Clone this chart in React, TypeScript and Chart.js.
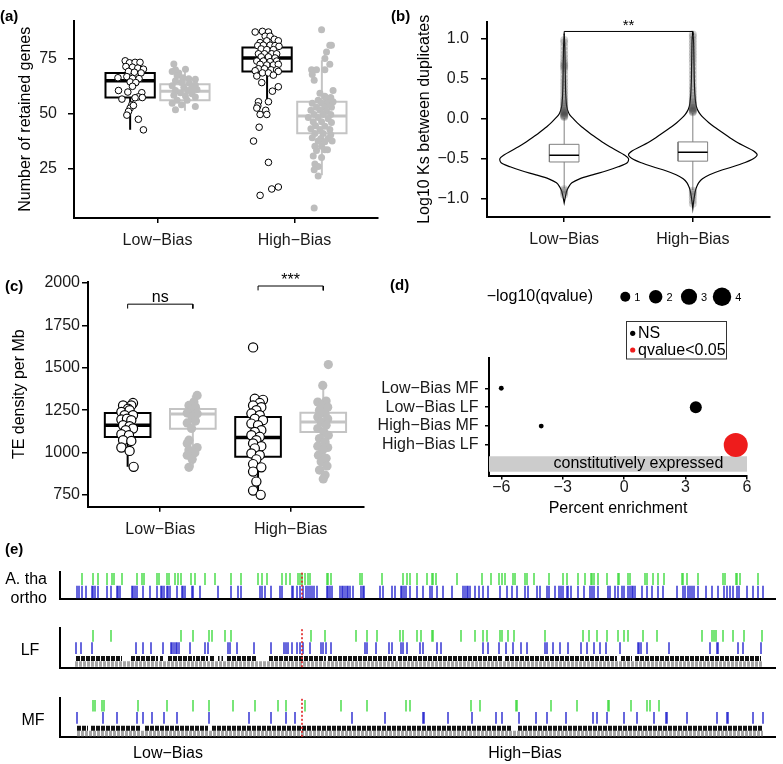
import React, { useEffect, useRef } from "react";
import { Chart, registerables } from "chart.js";

Chart.register(...registerables);

const FONT = "'Liberation Sans', Arial, Helvetica, sans-serif";
const MINUS = "\u2212";

/* ---------------- (a) Number of retained genes ---------------- */
const biasGroups = ["Low\u2212Bias", "High\u2212Bias"];
const retainedTicks = [25, 50, 75];
// [lower whisker, Q1, median, Q3, upper whisker]
const retainedBoxLowBlack = [42.5, 57.2, 64.8, 68.4, 74.0];
const retainedBoxLowGray = [51.2, 56.0, 60.1, 63.3, 71.0];
const retainedBoxHighBlack = [53.9, 69.0, 75.2, 80.0, 87.3];
const retainedBoxHighGray = [21.9, 41.0, 48.8, 55.3, 74.2];
// points: [jitter, value]
const retainedLowBlack = [
  [-0.036, 73.9], [-0.005, 73.0], [0.036, 73.2], [0.072, 73.2], [-0.031, 71.3], [0.017, 71.0],
  [0.056, 70.6], [0.097, 70.1], [-0.012, 69.1], [0.031, 68.7], [0.08, 68.4], [-0.089, 66.2],
  [-0.024, 66.7], [0.017, 65.9], [0.065, 65.8], [0, 64.3], [0.041, 64.0], [-0.085, 60.4],
  [0.017, 62.3], [0.085, 59.4], [-0.017, 59.7], [0.06, 57.5], [0.089, 57.2], [0.036, 57.1],
  [-0.06, 56.5], [0.012, 53.9], [0, 52.4], [0.024, 53.6], [-0.012, 50.9], [-0.024, 49.2],
  [0.06, 47.3], [0.097, 42.5],
];
const retainedLowGray = [
  [-0.081, 72.5], [0.004, 70.1], [-0.069, 69.8], [-0.093, 69.1], [-0.045, 68.4], [-0.057, 67.2],
  [-0.016, 66.2], [0.028, 65.8], [0.076, 65.5], [-0.069, 64.8], [-0.025, 64.0], [0.033, 63.7],
  [0.076, 62.9], [-0.093, 62.6], [-0.008, 61.9], [0.052, 61.9], [-0.069, 60.4], [0.023, 60.4],
  [0.088, 60.9], [-0.033, 59.4], [0.052, 58.9], [-0.081, 58.2], [0.004, 57.9], [0.076, 57.5],
  [-0.057, 56.0], [0.016, 56.0], [-0.093, 54.6], [-0.025, 53.9], [0.076, 53.1], [-0.069, 51.7],
];
const retainedHighBlack = [
  [-0.087, 87.0], [-0.034, 87.3], [0.01, 87.0], [-0.014, 85.1], [0.022, 85.1], [0.053, 83.7],
  [-0.051, 82.2], [-0.002, 83.0], [0.082, 83.0], [-0.068, 80.8], [-0.027, 81.0], [0.022, 81.0],
  [0.058, 80.8], [0.087, 80.5], [-0.043, 79.3], [-0.002, 79.0], [0.046, 79.0], [-0.063, 77.1],
  [-0.019, 77.1], [0.034, 77.1], [0.07, 77.1], [-0.043, 75.7], [0.01, 75.7], [0.058, 75.2],
  [-0.075, 73.8], [-0.027, 73.8], [0.022, 73.5], [0.07, 73.8], [-0.051, 72.3], [-0.002, 72.0],
  [0.046, 72.0], [0.082, 72.3], [-0.063, 70.3], [-0.019, 70.3], [0.029, 69.8], [0.07, 69.8],
  [-0.087, 69.4], [-0.034, 68.4], [0.01, 68.4], [0.082, 69.1], [-0.075, 67.0], [0.046, 67.4],
  [-0.039, 64.0], [0.082, 62.1], [0.039, 60.1], [0.01, 55.3], [-0.063, 55.3], [-0.068, 53.4],
  [-0.075, 52.4], [-0.01, 51.4], [-0.051, 49.5], [-0.002, 49.5], [-0.058, 43.7], [-0.099, 37.4],
  [0.01, 27.7], [0.082, 16.5], [0.034, 15.6], [-0.051, 12.7],
];
const retainedHighGray = [
  [-0.002, 88.0], [0.058, 81.0], [0.07, 81.0], [0.034, 77.9], [0.022, 75.0], [0.058, 72.3],
  [-0.075, 69.8], [-0.039, 69.8], [0.022, 69.8], [-0.07, 67.7], [-0.056, 65.1], [-0.014, 59.2],
  [0.082, 60.4], [0.022, 57.8], [0.065, 57.2], [-0.027, 56.0], [0.034, 56.4], [-0.07, 54.6],
  [-0.002, 54.6], [0.046, 54.6], [0.082, 55.3], [-0.039, 52.8], [0.022, 52.8], [0.07, 52.8],
  [-0.08, 51.4], [-0.014, 51.4], [0.034, 51.0], [-0.056, 49.5], [0.01, 49.5], [0.065, 49.5],
  [-0.099, 48.1], [-0.027, 48.1], [0.046, 47.6], [-0.063, 46.2], [-0.002, 46.2], [0.07, 45.9],
  [-0.046, 44.4], [0.022, 44.1], [-0.08, 43.0], [-0.014, 42.7], [0.058, 42.7], [-0.051, 40.8],
  [0.01, 40.8], [0.065, 40.3], [-0.07, 38.9], [-0.007, 38.6], [0.046, 38.6], [-0.027, 37.4],
  [0.022, 37.1], [0.075, 37.4], [-0.051, 35.0], [-0.002, 35.0], [-0.039, 33.1], [0.022, 33.5],
  [0.041, 33.5], [-0.063, 30.6], [-0.002, 29.9], [-0.051, 27.0], [-0.027, 25.8], [-0.056, 24.4],
  [-0.027, 21.5], [-0.056, 6.9],
];

/* ---------------- (b) Log10 Ks ---------------- */
const ksTicks = [-1, -0.5, 0, 0.5, 1];
const ksGrid = [1.06, 1.0, 0.9, 0.8, 0.7, 0.6, 0.5, 0.4, 0.3, 0.2, 0.15, 0.1, 0.05, 0.0, -0.05, -0.1,
  -0.15, -0.2, -0.25, -0.3, -0.35, -0.4, -0.45, -0.5, -0.55, -0.6, -0.65, -0.7, -0.75, -0.8, -0.85,
  -0.9, -0.95, -1.0, -1.05, -1.12];
const ksDensityLow = [0, 0.002, 0.005, 0.006, 0.007, 0.008, 0.009, 0.01, 0.012, 0.016, 0.02, 0.028,
  0.042, 0.07, 0.1, 0.135, 0.175, 0.215, 0.26, 0.305, 0.355, 0.41, 0.465, 0.5, 0.49, 0.42, 0.33, 0.22,
  0.12, 0.06, 0.035, 0.02, 0.012, 0.006, 0, 0];
const ksDensityHigh = [0, 0.005, 0.007, 0.008, 0.009, 0.01, 0.011, 0.013, 0.016, 0.022, 0.028, 0.04,
  0.06, 0.09, 0.125, 0.165, 0.21, 0.255, 0.3, 0.35, 0.41, 0.47, 0.5, 0.47, 0.4, 0.31, 0.21, 0.13, 0.075,
  0.045, 0.03, 0.02, 0.014, 0.009, 0.005, 0];
const ksBoxLow = [-0.87, -0.54, -0.455, -0.32, 0.01];
const ksBoxHigh = [-0.89, -0.53, -0.42, -0.29, 0.07];
const ksOutliersLow = [0.02, 0.03, 0.04, 0.05, 0.06, 0.07, 0.08, 0.09, 0.1, 0.12, 0.14, 0.16, 0.18, 0.2,
  0.23, 0.26, 0.3, 0.34, 0.38, 0.42, 0.46, 0.5, 0.55, 0.6, 0.63, 0.65, 0.67, 0.69, 0.72, 0.76, 0.8,
  0.85, 0.9, 0.95, 0.98, -0.88, -0.9, -0.92, -0.95];
const ksOutliersHigh = [0.08, 0.09, 0.1, 0.11, 0.12, 0.13, 0.14, 0.16, 0.18, 0.2, 0.22, 0.25, 0.28,
  0.32, 0.36, 0.4, 0.45, 0.5, 0.55, 0.6, 0.65, 0.7, 0.74, 0.78, 0.82, 0.86, 0.9, 0.94, 0.98, 1.02,
  1.05, -0.9, -0.92, -0.95, -0.98, -1.02, -1.06];
const ksBracket = 1.087;
const ksBracketFoot = 1.04;

/* ---------------- (c) TE density ---------------- */
const teTicks = [750, 1000, 1250, 1500, 1750, 2000];
const teBoxLowBlack = [916, 1092, 1161, 1233, 1292];
const teBoxLowGray = [913, 1141, 1228, 1257, 1337];
const teBoxHighBlack = [740, 975, 1089, 1210, 1317];
const teBoxHighGray = [845, 1122, 1180, 1235, 1396];
const teLowBlack = [
  [-0.035, 1278], [0.041, 1292], [0.028, 1278], [0.003, 1259], [-0.048, 1240], [0.015, 1250],
  [-0.023, 1220], [0.041, 1220], [-0.048, 1195], [-0.005, 1200], [0.028, 1191], [-0.035, 1161],
  [0.015, 1155], [0.041, 1142], [-0.015, 1132], [-0.048, 1108], [0.01, 1102], [-0.035, 1073],
  [0.028, 1069], [-0.048, 1030], [0.015, 1010], [0.046, 916],
];
const teLowGray = [
  [0.033, 1337], [0.008, 1298], [-0.03, 1278], [0.02, 1268], [-0.018, 1250], [-0.043, 1233],
  [0.033, 1229], [-0.005, 1210], [0.02, 1186], [-0.043, 1175], [-0.01, 1142], [-0.03, 1073],
  [-0.043, 1054], [0.033, 1030], [-0.03, 1015], [0.015, 999], [-0.043, 985], [-0.005, 960],
  [-0.03, 913],
];
const teHighBlack = [
  [-0.025, 1317], [0.038, 1311], [0.013, 1292], [-0.038, 1278], [0.025, 1268], [-0.013, 1250],
  [-0.051, 1230], [0.013, 1220], [-0.025, 1200], [0.038, 1191], [-0.051, 1171], [0, 1161],
  [0.025, 1132], [-0.025, 1122], [-0.051, 1102], [0.013, 1093], [-0.013, 1073], [-0.038, 1054],
  [0.025, 1038], [-0.025, 1025], [-0.051, 995], [0.013, 985], [-0.013, 960], [-0.038, 932],
  [0.025, 913], [-0.038, 888], [-0.013, 829], [-0.038, 776], [0.02, 751], [-0.038, 1620],
];
const teHighGray = [
  [0.039, 1519], [-0.004, 1396], [-0.042, 1298], [0.022, 1304], [-0.016, 1278], [0.034, 1268],
  [-0.029, 1250], [0.014, 1230], [-0.042, 1210], [0.034, 1200], [-0.016, 1181], [0.022, 1161],
  [-0.042, 1142], [0.004, 1122], [0.039, 1102], [-0.029, 1083], [0.014, 1063], [-0.042, 1038],
  [0.034, 1030], [-0.004, 1015], [-0.037, 985], [0.022, 966], [-0.016, 946], [0.029, 921],
  [-0.029, 897], [0.014, 868], [0, 845],
];
const teBracketNs = 1875;
const teBracketStars = 1982;
const teBracketDrop = 26;

/* ---------------- (d) Percent enrichment ---------------- */
const dTerms = ["Low\u2212Bias MF", "Low\u2212Bias LF", "High\u2212Bias MF", "High\u2212Bias LF"];
const dEnrichment = [-6.0, 3.5, -4.05, 5.45];
const dNegLog10Q = [0.05, 1.55, 0.05, 6.95];
const dSignificant = [false, false, false, true];
const dSizeBreaks = [1, 2, 3, 4];
const dEnrichTicks = [-6, -3, 0, 3, 6];
const dBandLabel = "constitutively expressed";

/* ---------------- (e) gene tracks (position along chromosome) ---------------- */
const athaGreen = [22, 33, 38, 47, 52, 54, 62, 77, 82, 84, 97, 99, 107, 109, 115, 118, 121, 131, 135, 145,
  155, 171, 181, 198, 202, 207, 222, 226, 230, 238, 240, 242, 245, 248, 250, 267, 268, 271, 300, 302, 322,
  343, 347, 350, 357, 367, 372, 373, 376, 397, 422, 431, 439, 442, 445, 453, 455, 465, 467, 474, 489, 503,
  507, 518, 525, 531, 532, 534, 538, 547, 558, 559, 568, 570, 585, 587, 593, 598, 604, 622, 623, 627, 638,
  663, 665, 676, 677, 680, 698];
const athaBlue = [17, 19, 22, 26, 32, 33, 35, 38, 47, 51, 57, 58, 60, 72, 73, 75, 77, 83, 90, 97, 101, 102,
  104, 107, 108, 110, 117, 122, 123, 125, 132, 133, 140, 158, 171, 178, 181, 200, 202, 205, 211, 220, 222,
  232, 233, 237, 240, 243, 246, 248, 250, 252, 254, 257, 267, 268, 270, 272, 280, 282, 283, 285, 287, 288,
  290, 293, 301, 303, 304, 320, 323, 332, 335, 341, 342, 344, 346, 350, 357, 363, 370, 372, 377, 383, 392,
  403, 405, 407, 408, 410, 415, 419, 423, 428, 440, 447, 452, 457, 465, 468, 477, 480, 487, 489, 495, 499,
  501, 503, 507, 508, 511, 518, 524, 530, 532, 534, 538, 548, 550, 555, 558, 562, 564, 568, 570, 572, 573,
  575, 582, 587, 592, 598, 603, 617, 623, 625, 628, 630, 632, 634, 638, 646, 652, 658, 664, 667, 670, 673,
  677, 679, 687, 693, 698, 703];
const lfGreen = [33, 51, 121, 133, 149, 152, 165, 171, 251, 265, 296, 307, 317, 340, 343, 357, 361, 372, 373,
  401, 415, 423, 427, 440, 442, 448, 454, 485, 523, 529, 537, 547, 558, 564, 568, 583, 597, 642, 652, 654,
  656, 663, 673, 684, 702];
const lfBlue = [16, 21, 32, 76, 83, 91, 103, 111, 112, 114, 116, 117, 119, 130, 145, 148, 168, 170, 177, 194,
  211, 224, 226, 228, 232, 237, 240, 243, 250, 261, 263, 266, 271, 305, 307, 316, 329, 332, 341, 343, 347,
  360, 363, 377, 381, 423, 428, 439, 446, 453, 461, 467, 485, 487, 493, 500, 508, 521, 527, 534, 540, 546,
  560, 578, 579, 581, 587, 609, 650, 657, 658, 678, 683, 701];
const lfBlackBlocks = [[16, 62], [71, 98], [100, 103], [108, 135], [136, 148], [150, 155], [158, 159.5],
  [161.5, 163], [167, 197], [209, 266], [268, 336], [338, 443], [445, 557], [561, 572], [575, 701]];
const lfGrayBlocks = [[15, 702]];
const mfGreen = [33, 35, 42, 44, 78, 107, 133, 149, 173, 195, 218, 226, 245, 281, 307, 346, 350, 411, 420,
  456, 457, 491, 517, 548, 549, 571, 587, 590, 599];
const mfBlue = [17, 43, 57, 77, 83, 92, 104, 117, 149, 189, 211, 226, 235, 292, 325, 363, 364, 388, 412, 436,
  442, 459, 476, 487, 506, 533, 537, 547, 564, 577, 594, 606, 607, 627, 657, 667, 668, 693, 703];
const mfBlackBlocks = [[17, 28], [31, 80], [85, 148], [152, 452], [458, 702]];
const mfGrayBlocks = [[17, 703]];
const boundaryPos = 242;
const trackLength = 715;

/* ---------------- helpers ---------------- */
const font16 = { family: FONT, size: 16 };
const minusFmt = (s: string) => s.replace(/-/g, MINUS);

const annotPlugin = {
  id: "annot",
  afterDatasetsDraw(chart: any, _args: any, opts: any) {
    const items = (opts && opts.items) || [];
    const ctx = chart.ctx;
    ctx.save();
    for (const it of items) {
      const px = chart.scales.x.getPixelForValue(it.x);
      const py = chart.scales.y.getPixelForValue(it.y) + (it.dy || 0);
      ctx.font = `${it.bold ? "bold " : ""}${it.size || 16}px ${FONT}`;
      ctx.fillStyle = it.color || "#000";
      ctx.textAlign = it.align || "center";
      ctx.textBaseline = it.baseline || "alphabetic";
      ctx.fillText(it.text, px, py);
    }
    ctx.restore();
  },
};
Chart.register(annotPlugin as any);

function points(pts: number[][], center: number, r: number, fill: string, stroke: string, sw: number, order = 0) {
  return {
    type: "line",
    showLine: false,
    data: pts.map(([j, v]) => ({ x: center + j, y: v })),
    pointRadius: r,
    pointHoverRadius: r,
    pointBackgroundColor: fill,
    pointBorderColor: stroke,
    pointBorderWidth: sw,
    order,
    clip: false,
  };
}

function box(center: number, half: number, stats: number[], color: string, lw: number, medLw: number, order = 2) {
  const [lo, q1, med, q3, hi] = stats;
  const L = center - half;
  const R = center + half;
  const base = { type: "line", showLine: true, pointRadius: 0, borderColor: color, fill: false, tension: 0, order };
  return [
    { ...base, borderWidth: lw, borderCapStyle: "butt",
      data: [{ x: center, y: lo }, { x: center, y: q1 }, { x: center, y: null }, { x: center, y: q3 }, { x: center, y: hi }] },
    { ...base, borderWidth: lw, borderCapStyle: "square", borderJoinStyle: "miter",
      data: [{ x: L, y: q1 }, { x: R, y: q1 }, { x: R, y: q3 }, { x: L, y: q3 }, { x: L, y: q1 }] },
    { ...base, borderWidth: medLw, borderCapStyle: "butt", order: order - 1,
      data: [{ x: L, y: med }, { x: R, y: med }] },
  ];
}

function bracket(x0: number, x1: number, y: number, foot: number, order = 0) {
  return {
    type: "line", showLine: true, pointRadius: 0, borderColor: "#000", borderWidth: 1, fill: false, order,
    data: [{ x: x0, y: foot }, { x: x0, y }, { x: x1, y }, { x: x1, y: foot }], clip: false,
  };
}

function axisX(min: number, max: number, height: number, tl: number, pad: number, labels: (v: number) => string, ticks: number[]) {
  return {
    type: "linear", min, max,
    afterBuildTicks: (s: any) => { s.ticks = ticks.map((v) => ({ value: v })); },
    afterFit: (s: any) => { s.height = height; },
    ticks: { callback: (v: any) => labels(Number(v)), font: font16, color: "#1a1a1a", padding: pad, maxRotation: 0, autoSkip: false },
    grid: { display: true, drawOnChartArea: false, drawTicks: true, tickLength: tl, color: "#000", lineWidth: 1.5 },
    border: { display: true, color: "#000", width: 2 },
  };
}

function axisY(min: number, max: number, width: number, tl: number, pad: number, labels: (v: number) => string, ticks: number[], title?: string, titlePad = 0) {
  return {
    type: "linear", min, max,
    afterBuildTicks: (s: any) => { s.ticks = ticks.map((v) => ({ value: v })); },
    afterFit: (s: any) => { s.width = width; },
    ticks: { callback: (v: any) => labels(Number(v)), font: font16, color: "#1a1a1a", padding: pad, autoSkip: false },
    grid: { display: true, drawOnChartArea: false, drawTicks: true, tickLength: tl, color: "#000", lineWidth: 1.5 },
    border: { display: true, color: "#000", width: 2 },
    title: title ? { display: true, text: title, font: font16, color: "#000", padding: { top: titlePad, bottom: 0 } } : { display: false },
  };
}

const baseOptions = (padding: any) => ({
  animation: false,
  responsive: false,
  devicePixelRatio: 1,
  events: [],
  layout: { padding },
  plugins: { legend: { display: false }, tooltip: { enabled: false } },
});

const groupLabel = (v: number) => biasGroups[Math.round(v) - 1] || "";

/* ---------------- chart configs ---------------- */
function makeA(): any {
  const dodge = 0.2;
  const half = 0.18;
  const BLACK = "#000";
  const GRAY = "#c4c4c4";
  const PGRAY = "#bdbdbd";
  const datasets = [
    points(retainedLowBlack, 1 - dodge, 3.3, "#fff", BLACK, 1, 0),
    points(retainedHighBlack, 2 - dodge, 3.3, "#fff", BLACK, 1, 0),
    points(retainedLowGray, 1 + dodge, 3.5, PGRAY, PGRAY, 0, 0),
    points(retainedHighGray, 2 + dodge, 3.5, PGRAY, PGRAY, 0, 0),
    ...box(1 - dodge, half, retainedBoxLowBlack, BLACK, 2, 3.5, 3),
    ...box(2 - dodge, half, retainedBoxHighBlack, BLACK, 2, 3.5, 3),
    ...box(1 + dodge, half, retainedBoxLowGray, GRAY, 2, 3, 3),
    ...box(2 + dodge, half, retainedBoxHighGray, GRAY, 2, 3, 3),
  ];
  return {
    type: "line",
    data: { datasets },
    options: {
      ...baseOptions({ top: 12, right: 12, left: 0, bottom: 0 }),
      scales: {
        x: axisX(0.39, 2.61, 47, 5, 8, groupLabel, [1, 2]),
        y: axisY(2.4, 92.2, 74, 6, 11, (v) => String(v), retainedTicks, "Number of retained genes", 16),
      },
    },
  };
}

function violin(center: number, dens: number[]) {
  let first = dens.findIndex((d) => d > 0);
  let last = dens.length - 1;
  while (last > 0 && dens[last] <= 0) last--;
  const i0 = Math.max(0, first - 1);
  const i1 = Math.min(dens.length - 1, last + 1);
  const pts: any[] = [];
  for (let i = i0; i <= i1; i++) pts.push({ x: center + dens[i], y: ksGrid[i] });
  for (let i = i1; i >= i0; i--) pts.push({ x: center - dens[i], y: ksGrid[i] });
  return pts;
}

function makeB(): any {
  const half = 0.115;
  const BOXC = "#808080";
  const outl = (vals: number[], c: number) => ({
    type: "line", showLine: false, data: vals.map((v) => ({ x: c, y: v })),
    pointRadius: 4, pointBackgroundColor: "rgba(60,60,60,0.22)", pointBorderWidth: 0, order: 1,
  });
  const boxB = (c: number, s: number[]) => {
    const [lo, q1, med, q3, hi] = s;
    const base = { type: "line", showLine: true, pointRadius: 0, fill: false, tension: 0 };
    return [
      { ...base, borderColor: BOXC, borderWidth: 1, order: 4,
        data: [{ x: c, y: lo }, { x: c, y: q1 }, { x: c, y: null }, { x: c, y: q3 }, { x: c, y: hi }] },
      { ...base, borderColor: BOXC, borderWidth: 1, order: 3,
        data: [{ x: c - half, y: q1 }, { x: c + half, y: q1 }, { x: c + half, y: q3 }, { x: c - half, y: q3 }, { x: c - half, y: q1 }] },
      { ...base, borderColor: "#000", borderWidth: 1.5, order: 2,
        data: [{ x: c - half, y: med }, { x: c + half, y: med }] },
    ];
  };
  const datasets = [
    bracket(1, 2, ksBracket, ksBracketFoot, 0),
    outl(ksOutliersLow, 1),
    outl(ksOutliersHigh, 2),
    ...boxB(1, ksBoxLow),
    ...boxB(2, ksBoxHigh),
    { type: "line", showLine: true, pointRadius: 0, borderColor: "#000", borderWidth: 1.2, tension: 0.3, fill: false, order: 5, data: violin(1, ksDensityLow) },
    { type: "line", showLine: true, pointRadius: 0, borderColor: "#000", borderWidth: 1.2, tension: 0.3, fill: false, order: 5, data: violin(2, ksDensityHigh) },
  ];
  return {
    type: "line",
    data: { datasets },
    options: {
      ...baseOptions({ top: 12, right: 13, left: 0, bottom: 0 }),
      scales: {
        x: axisX(0.4, 2.6, 48, 5, 8, groupLabel, [1, 2]),
        y: axisY(-1.226, 1.21, 97, 6, 12, (v) => minusFmt(v.toFixed(1)), ksTicks, "Log10 Ks between duplicates", 25),
      },
      plugins: {
        ...baseOptions({}).plugins,
        annot: { items: [{ x: 1.5, y: ksBracket, text: "**", size: 15, dy: -1 }] },
      },
    },
  };
}

function makeC(): any {
  const dodge = 0.25;
  const half = 0.175;
  const BLACK = "#000";
  const GRAY = "#c4c4c4";
  const PGRAY = "#bdbdbd";
  const datasets = [
    bracket(1 - dodge, 1 + dodge, teBracketNs, teBracketNs - teBracketDrop, 0),
    bracket(2 - dodge, 2 + dodge, teBracketStars, teBracketStars - teBracketDrop, 0),
    points(teLowBlack, 1 - dodge, 4.6, "#fff", BLACK, 1.2, 0),
    points(teHighBlack, 2 - dodge, 4.6, "#fff", BLACK, 1.2, 0),
    points(teLowGray, 1 + dodge, 4.6, PGRAY, PGRAY, 0, 0),
    points(teHighGray, 2 + dodge, 4.6, PGRAY, PGRAY, 0, 0),
    ...box(1 - dodge, half, teBoxLowBlack, BLACK, 2, 3.5, 3),
    ...box(2 - dodge, half, teBoxHighBlack, BLACK, 2, 3.5, 3),
    ...box(1 + dodge, half, teBoxLowGray, GRAY, 2, 3, 3),
    ...box(2 + dodge, half, teBoxHighGray, GRAY, 2, 3, 3),
  ];
  return {
    type: "line",
    data: { datasets },
    options: {
      ...baseOptions({ top: 11, right: 3, left: 0, bottom: 0 }),
      scales: {
        x: axisX(0.446, 2.564, 33.3, 5, 8, groupLabel, [1, 2]),
        y: axisY(681, 2008, 88, 6, 2, (v) => String(v), teTicks, "TE density per Mb", 10),
      },
      plugins: {
        ...baseOptions({}).plugins,
        annot: {
          items: [
            { x: 1, y: teBracketNs, text: "ns", size: 16, dy: -2.5 },
            { x: 2, y: teBracketStars, text: "***", size: 16, dy: -1 },
          ],
        },
      },
    },
  };
}

const sizeOf = (v: number) => Math.sqrt(5 + 20 * v);

const dLegendPlugin = {
  id: "dLegend",
  afterDraw(chart: any) {
    const ctx = chart.ctx;
    ctx.save();
    ctx.fillStyle = "#000";
    ctx.textBaseline = "middle";
    ctx.textAlign = "left";
    ctx.font = `16px ${FONT}`;
    ctx.fillText(MINUS + "log10(qvalue)", 116.7, 26.7);
    const cx = [255.3, 285.7, 319, 352];
    dSizeBreaks.forEach((v, i) => {
      const r = sizeOf(v);
      ctx.beginPath();
      ctx.arc(cx[i], 26.7, r, 0, Math.PI * 2);
      ctx.fill();
      ctx.font = `11px ${FONT}`;
      ctx.fillText(String(v), cx[i] + r + 4, 27.5);
    });
    ctx.strokeStyle = "#333";
    ctx.lineWidth = 1;
    ctx.strokeRect(256.5, 51.5, 100, 37.5);
    ctx.font = `16px ${FONT}`;
    ctx.beginPath();
    ctx.arc(262.7, 63.3, 2.6, 0, Math.PI * 2);
    ctx.fillStyle = "#000";
    ctx.fill();
    ctx.fillText("NS", 268, 64);
    ctx.beginPath();
    ctx.arc(262.7, 80, 2.6, 0, Math.PI * 2);
    ctx.fillStyle = "#ee1c1c";
    ctx.fill();
    ctx.fillStyle = "#000";
    ctx.fillText("qvalue<0.05", 268, 80.7);
    ctx.restore();
  },
};

function makeD(): any {
  const xMin = -6.6;
  const xMax = 6.0;
  const bandHalf = 0.41;
  const datasets = [
    {
      type: "line", showLine: false, clip: false, order: 0,
      data: dEnrichment.map((e, i) => ({ x: e, y: dTerms.length - i })),
      pointRadius: (c: any) => sizeOf(dNegLog10Q[c.dataIndex]),
      pointHoverRadius: (c: any) => sizeOf(dNegLog10Q[c.dataIndex]),
      pointBackgroundColor: (c: any) => (dSignificant[c.dataIndex] ? "#ee1c1c" : "#000"),
      pointBorderWidth: 0,
    },
    { type: "line", showLine: true, pointRadius: 0, borderWidth: 0, borderColor: "rgba(0,0,0,0)", backgroundColor: "#cccccc", fill: "+1", order: 1,
      data: [{ x: xMin, y: bandHalf }, { x: xMax, y: bandHalf }] },
    { type: "line", showLine: true, pointRadius: 0, borderWidth: 0, borderColor: "rgba(0,0,0,0)", fill: false, order: 1,
      data: [{ x: xMin, y: -bandHalf }, { x: xMax, y: -bandHalf }] },
  ];
  const xAxis: any = axisX(xMin, xMax, 59, 3.5, -2, (v) => minusFmt(String(v)), dEnrichTicks);
  xAxis.title = { display: true, text: "Percent enrichment", font: font16, color: "#000", padding: { top: 0, bottom: 17 } };
  return {
    type: "line",
    data: { datasets },
    options: {
      ...baseOptions({ top: 88, right: 36, left: 0, bottom: 0 }),
      scales: {
        x: xAxis,
        y: axisY(-0.64, 5.6, 119, 4, 6.5, (v) => dTerms[dTerms.length - Math.round(v)] || "", [1, 2, 3, 4]),
      },
      plugins: {
        ...baseOptions({}).plugins,
        annot: { items: [{ x: 0.7, y: 0, text: dBandLabel, size: 16, baseline: "middle" }] },
      },
    },
    plugins: [dLegendPlugin],
  };
}

const GREEN = "#4cdc4c";
const BLUE = "#3434d2";

function ticksDs(pos: number[], y0: number, y1: number, color: string) {
  const data: any[] = [];
  pos.forEach((p) => data.push({ x: p, y: y0 }, { x: p, y: y1 }, { x: p, y: null }));
  return { type: "line", showLine: true, pointRadius: 0, borderColor: color, borderWidth: 1.5, fill: false, data, borderCapStyle: "butt" };
}
function blocksDs(blocks: number[][], y: number, color: string, width: number, dash: number[]) {
  const data: any[] = [];
  blocks.forEach(([a, b]) => data.push({ x: a, y }, { x: b, y }, { x: b, y: null }));
  return { type: "line", showLine: true, pointRadius: 0, borderColor: color, borderWidth: width, borderDash: dash, fill: false, data, borderCapStyle: "butt" };
}
function boundaryDs(y0: number, y1: number) {
  return { type: "line", showLine: true, pointRadius: 0, borderColor: "#e02020", borderWidth: 1.6, borderDash: [2, 2], fill: false, order: -1,
    data: [{ x: boundaryPos, y: y0 }, { x: boundaryPos, y: y1 }] };
}

function trackOptions(yMax: number, padTop: number, xh: number) {
  return {
    ...baseOptions({ top: padTop, right: 8, left: 0, bottom: 0 }),
    scales: {
      x: { type: "linear", min: 0, max: trackLength, ticks: { display: false }, grid: { display: false },
        border: { display: true, color: "#000", width: 2 }, afterFit: (s: any) => { s.height = xh; } },
      y: { type: "linear", min: 0, max: yMax, ticks: { display: false }, grid: { display: false },
        border: { display: true, color: "#000", width: 2 }, afterFit: (s: any) => { s.width = 10; } },
    },
  };
}

function makeTrack1(): any {
  return {
    type: "line",
    data: { datasets: [boundaryDs(0.05, 2.15), ticksDs(athaGreen, 1.14, 2.1, GREEN), ticksDs(athaBlue, 0.08, 1.08, BLUE)] },
    options: trackOptions(2.2, 6.7, 5.7),
  };
}
function makeTrackGenes(green: number[], blue: number[], black: number[][], gray: number[][], padTop: number, xh: number): any {
  return {
    type: "line",
    data: {
      datasets: [
        boundaryDs(0.05, 3.95),
        ticksDs(green, 2.6, 3.77, GREEN),
        ticksDs(blue, 1.38, 2.55, BLUE),
        blocksDs(black, 0.92, "#111", 5, [4, 1]),
        blocksDs(gray, 0.38, "#a6a6a6", 5.5, [3, 1]),
      ],
    },
    options: trackOptions(4, padTop, xh),
  };
}

/* ---------------- components ---------------- */
function ChartBox({ left, top, width, height, make }: { left: number; top: number; width: number; height: number; make: () => any }) {
  const ref = useRef<HTMLCanvasElement>(null);
  useEffect(() => {
    const chart = new Chart(ref.current as HTMLCanvasElement, make());
    return () => chart.destroy();
  }, []);
  return (
    <div style={{ position: "absolute", left, top, width, height }}>
      <canvas ref={ref} width={width} height={height} style={{ width, height, display: "block" }} />
    </div>
  );
}

function Txt({ x, y, text, align = "left", bold = false, size = 16 }: { x: number; y: number; text: string; align?: string; bold?: boolean; size?: number }) {
  const tx = align === "center" ? "-50%" : align === "right" ? "-100%" : "0";
  return (
    <div style={{ position: "absolute", left: x, top: y, transform: `translate(${tx}, -50%)`, font: `${bold ? "bold " : ""}${size}px ${FONT}`,
      lineHeight: 1, whiteSpace: "nowrap", color: "#000" }}>
      {text}
    </div>
  );
}

export default function App() {
  return (
    <div style={{ position: "absolute", left: 0, top: 0, width: 783, height: 764, background: "#fff", overflow: "hidden" }}>
      <ChartBox left={0} top={0} width={390} height={265} make={makeA} />
      <ChartBox left={390} top={0} width={393} height={265} make={makeB} />
      <ChartBox left={0} top={270} width={370} height={270} make={makeC} />
      <ChartBox left={370} top={270} width={413} height={265} make={makeD} />
      <ChartBox left={50} top={565} width={733} height={40} make={makeTrack1} />
      <ChartBox left={50} top={620} width={733} height={55} make={() => makeTrackGenes(lfGreen, lfBlue, lfBlackBlocks, lfGrayBlocks, 7.7, 7.3)} />
      <ChartBox left={50} top={690} width={733} height={55} make={() => makeTrackGenes(mfGreen, mfBlue, mfBlackBlocks, mfGrayBlocks, 7.7, 7.7)} />
      <Txt x={0} y={15} text="(a)" bold size={15} />
      <Txt x={391} y={15} text="(b)" bold size={15} />
      <Txt x={5} y={285} text="(c)" bold size={15} />
      <Txt x={390} y={284} text="(d)" bold size={15} />
      <Txt x={5} y={548} text="(e)" bold size={15} />
      <Txt x={47} y={579} text="A. tha" align="right" />
      <Txt x={47} y={598} text="ortho" align="right" />
      <Txt x={30} y={650} text="LF" align="center" />
      <Txt x={33} y={720} text="MF" align="center" />
      <Txt x={168} y={753} text={"Low" + MINUS + "Bias"} align="center" />
      <Txt x={525} y={753} text={"High" + MINUS + "Bias"} align="center" />
    </div>
  );
}
